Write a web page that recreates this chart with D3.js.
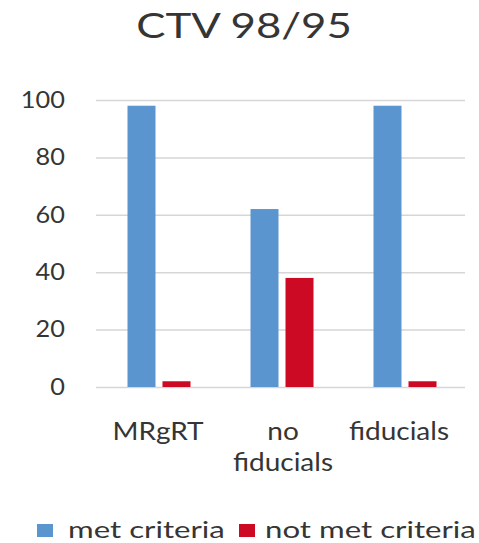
<!DOCTYPE html>
<html><head><meta charset="utf-8">
<script src="https://cdn.jsdelivr.net/npm/d3@7"></script>
<style>body{margin:0;background:#fff}svg{display:block}text{font-family:Lato,"Open Sans",sans-serif;fill:#353535}</style>
</head><body><svg id="c" width="479" height="543"></svg>
<script>
const categories = [["MRgRT"], ["no", "fiducials"], ["fiducials"]];
const seriesNames = ["met criteria", "not met criteria"];
const metCriteria = [98, 62, 98];
const notMetCriteria = [2, 38, 2];
const yTicks = [0, 20, 40, 60, 80, 100];
const colors = ["#5b95cf", "#cc0a24"];

const svg = d3.select("#c");
const m = {l: 96, r: 14};
const W = 479;
const x = d3.scaleBand().domain(d3.range(categories.length)).range([m.l, W - m.r]);
const y = d3.scaleLinear().domain([0, 100]).range([387, 100]);
const x1 = d3.scaleBand().domain([0, 1]).range([0, 63]).paddingInner(0.2);

function stext(px, py, sx, size, anchor, str) {
  return svg.append("g").attr("transform", `translate(${px},${py}) scale(${sx},1)`)
    .append("text").attr("text-anchor", anchor).style("font-size", size + "px").text(str);
}

stext(244, 38, 1.25, 35, "middle", "CTV 98/95");

const yAxis = svg.append("g").attr("transform", `translate(${m.l},0)`)
  .call(d3.axisLeft(y).tickValues(yTicks).tickSize(-(W - m.r - m.l)).tickPadding(34));
yAxis.select(".domain").remove();
yAxis.selectAll(".tick line").attr("stroke", "#d6d6d6").attr("stroke-width", 1.5);
yAxis.selectAll(".tick text").style("font-size", "23px").attr("fill", "#353535")
  .style("font-family", "Lato, sans-serif")
  .attr("transform", "translate(-62,0) scale(1.1,1) translate(62,0)");

const data = categories.map((c, i) => [metCriteria[i], notMetCriteria[i]]);
const g = svg.selectAll(".grp").data(data).join("g")
  .attr("transform", (d, i) => `translate(${x(i) + x.bandwidth() / 2 - 30},0)`);
g.selectAll("rect").data(d => d).join("rect")
  .attr("x", (d, j) => x1(j)).attr("width", x1.bandwidth())
  .attr("y", d => y(d)).attr("height", d => y(0) - y(d))
  .attr("fill", (d, j) => colors[j]);

const labelX = [158, 283, 399];
categories.forEach((lines, i) => {
  lines.forEach((ln, k) => stext(labelX[i], 440 + k * 31, 1.12, 25, "middle", ln));
});

const leg = [{x: 37, tx: 68}, {x: 239, tx: 265}];
seriesNames.forEach((s, i) => {
  svg.append("rect").attr("x", leg[i].x).attr("y", 524).attr("width", 16).attr("height", 13).attr("fill", colors[i]);
  stext(leg[i].tx, 538, 1.3, 24, "start", s);
});
</script></body></html>
